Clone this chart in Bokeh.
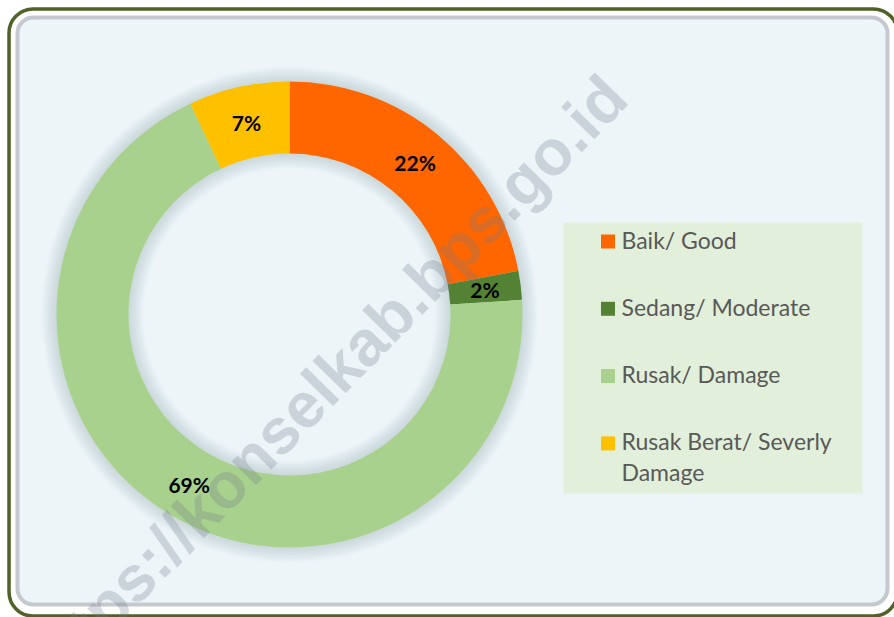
import math
from bokeh.plotting import figure
from bokeh.models import Range1d, BoxAnnotation, ColumnDataSource
from bokeh.core.properties import value
from bokeh.embed import file_html
from bokeh.resources import INLINE

# ---- data ----
categories = ["Baik/ Good", "Sedang/ Moderate", "Rusak/ Damage", "Rusak Berat/ Severly\nDamage"]
percent = [22, 2, 69, 7]
colors = ["#FF6600", "#548235", "#A9D18E", "#FFC000"]
watermark = "https://konselkab.bps.go.id"

W, H = 894, 617
p = figure(width=W, height=H, x_range=Range1d(0, W), y_range=Range1d(0, H),
           output_backend="svg", toolbar_location=None,
           x_axis_location=None, y_axis_location=None, min_border=0)
p.grid.visible = False
p.outline_line_color = None
p.background_fill_color = "white"
p.border_fill_color = "white"

# outer rounded green frame
p.add_layout(BoxAnnotation(left=8.5, right=897, bottom=1.5, top=608.5,
                           fill_color="white", fill_alpha=1,
                           line_color="#4F6228", line_alpha=1, line_width=3.5,
                           border_radius=24, level="underlay"))
# inner bevelled panel
p.add_layout(BoxAnnotation(left=17, right=887, bottom=13, top=600,
                           fill_color="#EEF5F9", fill_alpha=1,
                           line_color="#C5C9CF", line_alpha=1, line_width=4,
                           border_radius=16, level="underlay"))

# ---- donut ----
cx, cy = 289, 303
r_out, r_in = 233, 161
total = sum(percent)
starts, ends, mids = [], [], []
acc = 0
for v in percent:
    s = acc / total
    acc += v
    e = acc / total
    starts.append(math.pi / 2 - 2 * math.pi * s)
    ends.append(math.pi / 2 - 2 * math.pi * e)
    mids.append(math.pi / 2 - 2 * math.pi * (s + e) / 2)

# soft shadow
for k in range(1, 11):
    p.annulus(x=cx, y=cy, inner_radius=r_in - 1.5 * k, outer_radius=r_out + 1.5 * k,
              fill_color="#8C9AA6", fill_alpha=0.03, line_color=None)

src = ColumnDataSource(dict(start=starts, end=ends, color=colors))
p.annular_wedge(x=cx, y=cy, inner_radius=r_in, outer_radius=r_out,
                start_angle="start", end_angle="end", direction="clock",
                fill_color="color", line_color=None, source=src)

# watermark
p.text(x=[325], y=[235], text=[watermark], angle=0.796,
       text_font=value("Liberation Sans"), text_font_style="bold",
       text_font_size="64px", text_color="#6E7B87", text_alpha=0.27,
       text_align="center", text_baseline="alphabetic")

# data labels
r_lab = 197
lab_src = ColumnDataSource(dict(
    x=[cx + r_lab * math.cos(a) for a in mids],
    y=[cy + r_lab * math.sin(a) for a in mids],
    t=[f"{v}%" for v in percent]))
p.text(x="x", y="y", text="t", source=lab_src, text_font=value("Lato"),
       text_font_style="bold", text_font_size="21px", text_color="black",
       text_align="center", text_baseline="middle")

# ---- legend ----
p.add_layout(BoxAnnotation(left=563, right=862, bottom=124, top=395,
                           fill_color="#E2EFDA", fill_alpha=1, line_color=None,
                           level="underlay"))
leg_y0, leg_step, line_step = 376, 67.3, 31
p.rect(x=[607.5] * len(categories), y=[leg_y0 - i * leg_step for i in range(len(categories))],
       width=14, height=14, fill_color=colors, line_color=None)
tx, ty, tt = [], [], []
for i, c in enumerate(categories):
    for j, line in enumerate(c.split("\n")):
        tx.append(621)
        ty.append(leg_y0 + 2 - i * leg_step - j * line_step)
        tt.append(line)
p.text(x=tx, y=ty, text=tt, text_font=value("Lato"), text_font_size="23px",
       text_color="#595959", text_align="left", text_baseline="middle")

open("out.html", "w").write(file_html(p, INLINE))
